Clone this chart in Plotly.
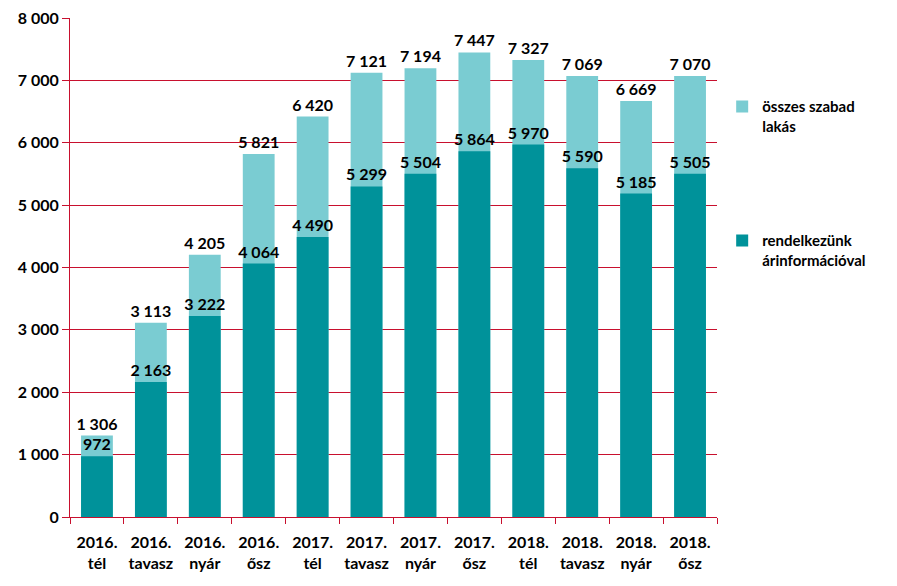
import plotly.graph_objects as go

categories = ["2016.<br>tél", "2016.<br>tavasz", "2016.<br>nyár", "2016.<br>ősz",
              "2017.<br>tél", "2017.<br>tavasz", "2017.<br>nyár", "2017.<br>ősz",
              "2018.<br>tél", "2018.<br>tavasz", "2018.<br>nyár", "2018.<br>ősz"]
total_free = [1306, 3113, 4205, 5821, 6420, 7121, 7194, 7447, 7327, 7069, 6669, 7070]
with_price = [972, 2163, 3222, 4064, 4490, 5299, 5504, 5864, 5970, 5590, 5185, 5505]
y_ticks = [0, 1000, 2000, 3000, 4000, 5000, 6000, 7000, 8000]

def fmt(v):
    return f"{v:,}".replace(",", " ")

RED = "#C8102E"
LIGHT = "#7ACCD2"
DARK = "#00929A"
FONT = "Lato"

fig = go.Figure()
fig.add_trace(go.Bar(
    x=categories, y=total_free, name="összes szabad<br>lakás",
    marker=dict(color=LIGHT, line=dict(width=0)),
    text=[fmt(v) for v in total_free], textposition="outside",
    constraintext="none", cliponaxis=False,
    textfont=dict(family=FONT, size=16, color="black", weight="bold"),
    legendgroup="a", width=0.59,
))
fig.add_trace(go.Bar(
    x=categories, y=with_price, name="rendelkezünk<br>árinformációval",
    marker=dict(color=DARK, line=dict(width=0)),
    text=[fmt(v) for v in with_price], textposition="outside",
    constraintext="none", cliponaxis=False,
    textfont=dict(family=FONT, size=16, color="black", weight="bold"),
    legendgroup="b", width=0.59,
))

fig.update_layout(
    width=889, height=578,
    barmode="overlay",
    separators=", ",
    paper_bgcolor="white", plot_bgcolor="white",
    margin=dict(l=62, r=180, t=10, b=69, autoexpand=False),
    font=dict(family=FONT, size=16, color="black", weight="bold"),
    legend=dict(x=1.008, y=0.855, xanchor="left", yanchor="top",
                valign="top",
                font=dict(family=FONT, size=15, color="black", weight="bold"),
                tracegroupgap=92, traceorder="grouped",
                itemwidth=30),
    showlegend=True,
)
fig.update_xaxes(
    showgrid=False, showline=True, linecolor=RED, linewidth=1,
    ticks="outside", tickson="boundaries", tickcolor=RED, ticklen=6,
    ticklabelstandoff=11, ticklabeloverflow="allow",
    tickfont=dict(family=FONT, size=16, color="black", weight="bold"),
    automargin=False,
)
fig.update_yaxes(
    range=[0, 8000], tickvals=y_ticks, tickformat=",",
    ticksuffix="\u00a0", ticklabeloverflow="allow",
    showgrid=True, gridcolor=RED, gridwidth=1,
    showline=True, linecolor=RED, linewidth=1,
    ticks="outside", tickcolor=RED, ticklen=7,
    tickfont=dict(family=FONT, size=16, color="black", weight="bold"),
    zeroline=False, automargin=False,
)
fig.write_html("out.html")
